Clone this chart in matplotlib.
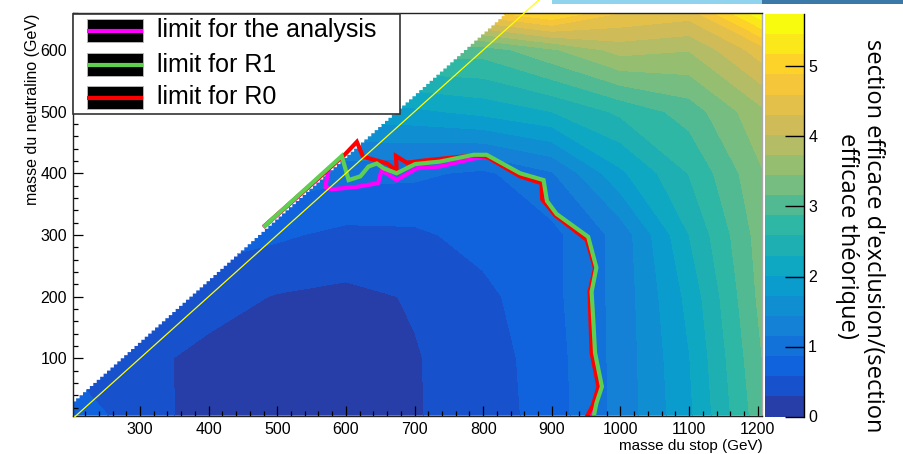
import matplotlib
matplotlib.use('Agg')
import matplotlib.pyplot as plt
import numpy as np
from matplotlib.colors import LinearSegmentedColormap, ListedColormap, BoundaryNorm
from matplotlib.patches import Polygon, Rectangle
from matplotlib.lines import Line2D
from matplotlib.ticker import MultipleLocator

plt.rcParams['font.family'] = ['Liberation Sans', 'DejaVu Sans']

# grille (GeV)
stop_nodes = [200, 300, 400, 500, 600, 700, 800, 900, 1000, 1100, 1210]
chi_nodes = [0, 100, 200, 300, 400, 500, 600, 660]
# section efficace d'exclusion / section efficace theorique, une ligne par masse du neutralino
ratio = [
    [0.80, 0.42, 0.16, 0.12, 0.14, 0.27, 0.40, 0.72, 1.25, 1.95, 3.10],
    [0.50, 0.36, 0.21, 0.12, 0.13, 0.27, 0.42, 0.74, 1.25, 2.00, 3.20],
    [0.55, 0.50, 0.40, 0.27, 0.22, 0.31, 0.50, 0.78, 1.25, 2.10, 3.30],
    [0.90, 0.80, 0.70, 0.62, 0.50, 0.52, 0.68, 0.78, 1.25, 2.30, 3.35],
    [1.20, 1.10, 1.00, 1.00, 0.95, 0.92, 0.80, 1.12, 1.95, 2.60, 3.45],
    [2.00, 2.00, 1.90, 1.90, 1.90, 1.95, 2.10, 2.30, 2.65, 3.00, 3.70],
    [3.00, 3.00, 3.00, 3.00, 3.00, 3.00, 3.00, 3.40, 3.85, 3.75, 4.50],
    [4.60, 4.60, 4.60, 4.60, 4.60, 4.60, 4.80, 5.20, 4.60, 4.45, 5.75],
]
zmax = 5.75
dm_cut = 168    # pas de points au-dessus de m_chi = m_stop - dm_cut
dm_line = 200   # ligne jaune m_chi = m_stop - dm_line
bin_w = 5       # largeur des bins (escalier le long de la diagonale)

# limites
ana_stop = [482, 575, 570, 579, 616, 647, 652, 674, 703, 737, 786, 805, 854, 886, 889, 906, 952, 964, 957, 959, 961, 970, 963, 956]
ana_chi = [315, 407, 378, 374, 378, 384, 405, 389, 408, 411, 424, 427, 397, 386, 357, 333, 294, 247, 207, 130, 109, 54, 25, 5]
r0_stop = [482, 599, 616, 625, 660, 674, 673, 689, 708, 786, 805, 854, 885, 886, 905, 951, 963, 955, 958, 968, 960, 951]
r0_chi = [315, 431, 451, 427, 416, 404, 428, 417, 420, 429, 427, 395, 384, 358, 332, 292, 246, 208, 109, 54, 24, 5]
r1_stop = [482, 594, 604, 621, 633, 645, 655, 674, 701, 737, 786, 805, 854, 888, 893, 907, 953, 965, 958, 961, 963, 973, 965, 961]
r1_chi = [315, 428, 389, 395, 411, 416, 408, 400, 415, 419, 430, 430, 400, 389, 355, 334, 297, 247, 208, 151, 109, 54, 27, 5]

legend_labels = ['limit for the analysis', 'limit for R1', 'limit for R0']
legend_colors = ['#ff00ff', '#5fcf4f', '#ff0000']

# palette kBird de ROOT
bird_pos = [0.0, 0.125, 0.25, 0.375, 0.5, 0.625, 0.75, 0.875, 1.0]
bird_r = [0.2082, 0.0592, 0.0780, 0.0232, 0.1802, 0.5301, 0.8186, 0.9956, 0.9764]
bird_g = [0.1664, 0.3599, 0.5041, 0.6419, 0.7178, 0.7492, 0.7328, 0.7862, 0.9832]
bird_b = [0.5293, 0.8684, 0.8385, 0.7914, 0.6425, 0.4662, 0.3499, 0.1968, 0.0539]
bird = LinearSegmentedColormap.from_list('bird', list(zip(bird_pos, zip(bird_r, bird_g, bird_b))))
# comme ROOT : couleur du niveau i prise a (i + 0.99) / ndiv
cmap = ListedColormap(bird((np.arange(20) + 0.99) / 20))
levels = np.linspace(0, zmax, 21)
norm = BoundaryNorm(levels, 20)

W, H = 904, 454
fig = plt.figure(figsize=(W / 100, H / 100), dpi=100)
ax = fig.add_axes([72.7 / W, 1 - 415.6 / H, 689.8 / W, 402.6 / H])
xmin, xmax, ymin, ymax = 202, 1207, 7, 660

Z = np.clip(np.array(ratio), 0, zmax * 0.999)
cs = ax.contourf(stop_nodes, chi_nodes, Z, levels=levels, cmap=cmap, norm=norm, zorder=1)

# zone autorisee, bord en escalier comme les bins de l'histogramme
edge = []
s = xmin
while s - dm_cut < ymax:
    c = np.floor((s - dm_cut) / bin_w) * bin_w
    edge += [(s, max(c, ymin)), (s + bin_w, max(c, ymin))]
    s += bin_w
verts = [(xmin, ymin), (xmax, ymin), (xmax, ymax)] + [(ymax + dm_cut, ymax)] + edge[::-1]
valid = Polygon(verts, closed=True, transform=ax.transData)
cs.set_clip_path(valid)

ax.plot([xmin + 3, 881], [xmin + 3 - dm_line, 881 - dm_line], color='#ffff00', lw=0.9, clip_on=False, zorder=3)

ax.plot(ana_stop, ana_chi, color=legend_colors[0], lw=3, solid_joinstyle='miter', zorder=2)
ax.plot(r0_stop, r0_chi, color=legend_colors[2], lw=3, solid_joinstyle='miter', zorder=2)
ax.plot(r1_stop, r1_chi, color=legend_colors[1], lw=3, solid_joinstyle='miter', zorder=2)

ax.set_xlim(xmin, xmax)
ax.set_ylim(ymin, ymax)
ax.xaxis.set_major_locator(MultipleLocator(100))
ax.xaxis.set_minor_locator(MultipleLocator(20))
ax.yaxis.set_major_locator(MultipleLocator(100))
ax.yaxis.set_minor_locator(MultipleLocator(20))
ax.tick_params(which='both', direction='in', top=False, right=False, width=0.9, colors='black')
ax.tick_params(which='major', length=7.5, labelsize=11.5)
ax.tick_params(which='minor', length=3.5)
ax.tick_params(axis='x', pad=4.5)
ax.tick_params(axis='y', pad=4)
for sp in ax.spines.values():
    sp.set_color('#222222')
    sp.set_linewidth(1)
ax.spines['right'].set_color('#aaaaaa')

fig.text(763 / W, 1 - 446 / H, 'masse du stop (GeV)', ha='right', va='center', fontsize=11)
fig.text(33 / W, 1 - 14 / H, 'masse du neutralino (GeV)', ha='center', va='top', rotation=90, fontsize=11.5)

# legende
tf = fig.transFigure
ax.add_patch(Rectangle((73 / W, 1 - 114 / H), 327 / W, 100 / H, transform=tf, fc='white', ec='#333333',
                       lw=1.2, clip_on=False, zorder=5))
for i, (lab, col) in enumerate(zip(legend_labels, legend_colors)):
    yc = [30.5, 64.5, 97.5][i]
    ax.add_patch(Rectangle((87 / W, 1 - (yc + 11.5) / H), 56 / W, 23 / H, transform=tf, fc='black',
                           ec='#bbbbbb', lw=0.6, clip_on=False, zorder=6))
    ax.add_line(Line2D([87 / W, 143 / W], [1 - yc / H, 1 - yc / H], transform=tf, color=col, lw=3,
                       solid_capstyle='butt', clip_on=False, zorder=7))
    fig.text(157 / W, 1 - yc / H, lab, ha='left', va='center', fontsize=18, zorder=8)

# echelle de couleur
cax = fig.add_axes([765 / W, 1 - 416.5 / H, 39 / W, 402.5 / H])
cb = fig.colorbar(cs, cax=cax, ticks=range(6))
cb.minorticks_off()
cb.outline.set_visible(False)
cax.yaxis.set_ticks_position('right')
cax.tick_params(direction='in', length=14, width=1, labelsize=11.5, pad=3, colors='black')
cax.add_line(Line2D([1, 1], [0, 1], transform=cax.transAxes, color='black', lw=1, clip_on=False))
fig.text(860 / W, 1 - 236 / H, "section efficace d'exclusion/(section\nefficace théorique)",
         rotation=270, ha='center', va='center', multialignment='center', fontsize=17,
         family=['Open Sans', 'DejaVu Sans'], linespacing=1.15)

# bandeau du haut
fig.add_artist(Rectangle((552 / W, 1 - 4 / H), 210 / W, 4 / H, transform=tf, fc='#8fd3ef', ec='none'))
fig.add_artist(Rectangle((762 / W, 1 - 4 / H), 142 / W, 4 / H, transform=tf, fc='#3b7aa8', ec='none'))

fig.savefig('out.png', dpi=100)
